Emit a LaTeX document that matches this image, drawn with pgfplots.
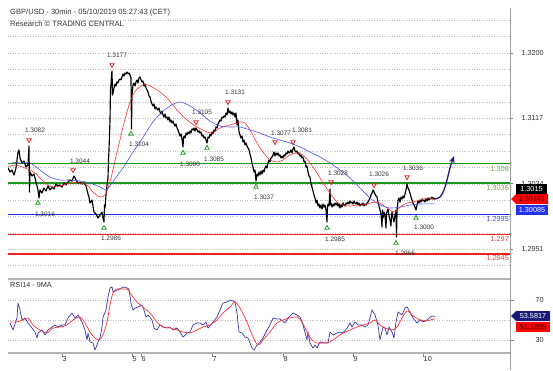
\documentclass[border=0pt]{standalone}
\usepackage{fontspec}
\setmainfont{Liberation Sans}
\usepackage{pgfplots}
\pgfplotsset{compat=1.18}
\usetikzlibrary{arrows.meta}

\definecolor{lvgreen}{HTML}{1A9A1A}
\definecolor{lvgreentxt}{HTML}{6AAE4A}
\definecolor{lvblue}{HTML}{1A2AF0}
\definecolor{lvbluetxt}{HTML}{4050D8}
\definecolor{lvred}{HTML}{F02020}
\definecolor{lvredtxt}{HTML}{EE3A3A}
\definecolor{mared}{HTML}{FF3030}
\definecolor{mablue}{HTML}{5050F0}
\definecolor{rsiblue}{HTML}{3838A8}
\definecolor{navyarrow}{HTML}{1E1E80}
\definecolor{txtgray}{HTML}{333333}
\definecolor{trired}{HTML}{E02828}
\definecolor{trigreen}{HTML}{249A24}
\definecolor{boxblue}{HTML}{2233F0}
\definecolor{boxnavy}{HTML}{1C1C78}
\definecolor{gridc}{HTML}{BBBBBB}

\newcommand\sm{\fontsize{6.5}{7}\selectfont}
\newcommand\md{\fontsize{7.3}{8}\selectfont}

\begin{document}
\begin{tikzpicture}

% ---------------- main price panel ----------------
\begin{axis}[
  at={(8bp,100bp)}, anchor=south west, scale only axis,
  width=502bp, height=262bp,
  xmin=8, xmax=510, ymin=1.29247, ymax=1.32569,
  axis line style={draw=none},
  xtick=\empty,
  ytick pos=right, yticklabel pos=right,
  ytick={1.2951,1.3034,1.3117,1.3200},
  yticklabels={1.2951,1.3034,1.3117,1.3200},
  tick align=outside, major tick length=3bp,
  ytick style={gray, line width=0.6bp},
  yticklabel style={font=\md, text=txtgray, anchor=west, xshift=5bp},
  /pgf/number format/assume math mode=true,
]
% dotted grid
\pgfplotsinvokeforeach{1.29303,1.2951,1.29718,1.29925,1.30133,1.3034,1.30548,1.30755,1.30963,1.3117,1.31378,1.31585,1.31793,1.3200,1.32208,1.32415}{
  \addplot[gridc, dotted, line width=0.5bp, forget plot] coordinates {(8,#1)(510,#1)};
}
% support / resistance levels
\addplot[lvgreen, line width=1.2bp] coordinates {(8,1.306)(510,1.306)};
\addplot[lvgreen, line width=1.2bp] coordinates {(8,1.3035)(510,1.3035)};
\addplot[lvblue, line width=1.5bp] coordinates {(8,1.2995)(510,1.2995)};
\addplot[lvred, line width=1.2bp] coordinates {(8,1.297)(510,1.297)};
\addplot[lvred, line width=1.2bp] coordinates {(8,1.2945)(510,1.2945)};

% price
\addplot[black, line width=1.15bp, line join=round] coordinates {
(8,1.30540)(10,1.30489)(12,1.30515)(14,1.30451)(16,1.30540)(18,1.30743)(19,1.30769)(20,1.30667)
(22,1.30604)(24,1.30629)(26,1.30553)(28,1.30578)(29,1.30819)(29.5,1.30236)(30,1.30489)(32,1.30439)
(34,1.30464)(36,1.30363)(38,1.30261)(39,1.30160)(40,1.30261)(42,1.30223)(44,1.30286)(46,1.30248)
(48,1.30312)(50,1.30261)(52,1.30299)(54,1.30274)(56,1.30337)(58,1.30312)(60,1.30325)(62,1.30299)
(64,1.30350)(66,1.30325)(68,1.30363)(70,1.30388)(72,1.30375)(74,1.30439)(76,1.30388)(78,1.30350)
(80,1.30363)(82,1.30337)(84,1.30350)(86,1.30312)(87,1.30261)(88,1.30210)(89,1.30172)(90,1.30096)
(92,1.30134)(94,1.29982)(96,1.29957)(98,1.29906)(100,1.29944)(102,1.29982)(103,1.29906)(104,1.29855)
(104.5,1.30071)(105,1.30033)(106,1.30198)(107,1.30325)(108,1.30413)(108.5,1.30642)(109,1.30769)
(109.5,1.30959)(110,1.31149)(110.5,1.31530)(111,1.31593)(111.5,1.31720)(112,1.31771)(112.5,1.31466)
(113,1.31492)(114,1.31555)(115,1.31606)(116,1.31580)(117,1.31631)(118,1.31618)(119,1.31657)(120,1.31669)
(121,1.31657)(122,1.31695)(123,1.31733)(124,1.31707)(125,1.31745)(126,1.31733)(127,1.31758)(128,1.31733)
(129,1.31745)(130,1.31720)(131,1.31682)(131.5,1.31035)(132,1.31466)(133,1.31593)(134,1.31618)(135,1.31580)
(136,1.31631)(137,1.31657)(138,1.31618)(139,1.31682)(140,1.31695)(141,1.31657)(142,1.31631)(143,1.31644)
(144,1.31580)(145,1.31606)(146,1.31555)(147,1.31530)(148,1.31504)(149,1.31454)(150,1.31441)(151,1.31390)
(152,1.31352)(153,1.31327)(154,1.31352)(155,1.31289)(156,1.31314)(157,1.31289)(158,1.31276)(159,1.31301)
(160,1.31251)(161,1.31225)(162,1.31263)(163,1.31213)(164,1.31187)(165,1.31225)(166,1.31175)(167,1.31187)
(168,1.31149)(169,1.31187)(170,1.31124)(171,1.31149)(172,1.31111)(173,1.31136)(174,1.31098)(175,1.31073)
(176,1.31098)(177,1.31048)(178,1.31022)(179,1.30984)(180,1.30946)(181,1.30972)(182,1.30908)(183,1.30807)
(183.5,1.30921)(184,1.30946)(185,1.30921)(186,1.30984)(187,1.30959)(188,1.30997)(189,1.30972)(190,1.31010)
(191,1.30984)(192,1.31035)(193,1.31022)(194,1.31048)(195,1.31010)(196,1.31048)(197,1.31022)(198,1.30997)
(199,1.31010)(200,1.30984)(201,1.30997)(202,1.30946)(203,1.30959)(204,1.30921)(205,1.30933)(206,1.30895)
(207,1.30857)(208,1.30933)(209,1.30921)(210,1.30972)(211,1.30946)(212,1.30997)(213,1.30972)(214,1.31022)
(215,1.31010)(216,1.31060)(217,1.31048)(218,1.31098)(219,1.31124)(220,1.31149)(221,1.31136)(222,1.31187)
(223,1.31175)(224,1.31200)(225,1.31187)(226,1.31238)(227,1.31213)(228,1.31301)(229,1.31238)(230,1.31263)
(231,1.31225)(232,1.31251)(233,1.31213)(234,1.31238)(235,1.31187)(236,1.31238)(237,1.31086)(238,1.31149)
(239,1.30997)(240,1.30959)(241,1.30921)(242,1.30946)(243,1.30870)(244,1.30895)(245,1.30832)(246,1.30857)
(247,1.30819)(248,1.30794)(249,1.30769)(250,1.30718)(251,1.30667)(252,1.30604)(253,1.30553)(254,1.30489)
(255,1.30515)(256,1.30375)(257,1.30464)(258,1.30439)(259,1.30489)(260,1.30451)(261,1.30502)(262,1.30464)
(263,1.30515)(264,1.30489)(265,1.30540)(266,1.30566)(267,1.30540)(268,1.30604)(269,1.30642)(270,1.30616)
(271,1.30667)(272,1.30680)(273,1.30705)(274,1.30743)(275,1.30692)(276,1.30731)(277,1.30705)(278,1.30731)
(279,1.30692)(280,1.30705)(281,1.30667)(282,1.30692)(283,1.30667)(284,1.30705)(285,1.30692)(286,1.30731)
(287,1.30718)(288,1.30756)(289,1.30731)(290,1.30743)(291,1.30769)(292,1.30731)(293,1.30781)(294,1.30807)
(295,1.30756)(296,1.30743)(297,1.30756)(298,1.30718)(299,1.30731)(300,1.30692)(301,1.30705)(302,1.30667)
(303,1.30680)(304,1.30616)(305,1.30629)(306,1.30553)(307,1.30566)(308,1.30489)(309,1.30439)(310,1.30426)
(311,1.30337)(312,1.30299)(313,1.30248)(314,1.30198)(315,1.30160)(316,1.30096)(317,1.30134)(318,1.30058)
(319,1.30084)(320,1.30033)(321,1.30071)(322,1.30020)(323,1.30084)(324,1.30045)(325,1.30071)(326,1.30007)
(327,1.29855)(327.5,1.30045)(328,1.30084)(329,1.30058)(330,1.30274)(330.5,1.30071)(331,1.30096)(332,1.30045)
(333,1.30084)(334,1.30058)(335,1.30096)(336,1.30071)(337,1.30096)(338,1.30058)(339,1.30084)(340,1.30033)
(341,1.30071)(342,1.30045)(343,1.30096)(344,1.30071)(345,1.30058)(346,1.30096)(347,1.30084)(348,1.30109)
(349,1.30084)(350,1.30122)(351,1.30096)(352,1.30109)(353,1.30084)(354,1.30122)(355,1.30096)(356,1.30084)
(357,1.30109)(358,1.30071)(359,1.30096)(360,1.30058)(361,1.30084)(362,1.30071)(363,1.30096)(364,1.30058)
(365,1.30084)(366,1.30071)(367,1.30096)(368,1.30109)(369,1.30134)(370,1.30160)(371,1.30198)(372,1.30223)
(373,1.30261)(374,1.30236)(375,1.30210)(376,1.30185)(377,1.30172)(378,1.30109)(379,1.30058)(380,1.30007)
(381,1.29957)(382,1.29792)(382.5,1.30007)(383,1.29906)(384,1.29982)(385,1.29931)(386,1.29779)(386.5,1.29969)
(388,1.30020)(389,1.29931)(390,1.29881)(391,1.29805)(391.5,1.29944)(392,1.29982)(393,1.29906)(394,1.29855)
(395,1.29944)(396,1.30007)(396.5,1.29665)(397,1.29982)(398,1.30134)(399,1.30160)(400,1.30109)(401,1.30172)
(402,1.30147)(403,1.30185)(404,1.30160)(405,1.30210)(406,1.30261)(407,1.30337)(408,1.30286)(409,1.30261)
(410,1.30223)(411,1.30172)(412,1.30134)(413,1.30096)(414,1.30071)(415,1.30045)(416,1.30007)(417,1.30071)
(418,1.30122)(419,1.30096)(420,1.30134)(421,1.30109)(422,1.30147)(423,1.30122)(424,1.30134)(425,1.30109)
(426,1.30147)(427,1.30122)(428,1.30160)(429,1.30134)(430,1.30160)(431,1.30147)(432,1.30172)(433,1.30147)
(434,1.30160)(435,1.30147)
};

% fast moving average (red)
\addplot[mared, line width=0.6bp, smooth] coordinates {
(8,1.30553)(15,1.30578)(25,1.30540)(35,1.30477)(45,1.30350)(52,1.30299)(60,1.30312)(70,1.30350)
(80,1.30350)(87,1.30325)(93,1.30236)(100,1.30172)(105,1.30198)(108,1.30286)(111,1.30413)(114,1.30578)
(117,1.30743)(120,1.30895)(123,1.31060)(127,1.31251)(130,1.31377)(133,1.31466)(137,1.31542)(143,1.31593)
(148,1.31593)(157,1.31530)(167,1.31428)(177,1.31276)(187,1.31149)(197,1.31060)(207,1.30997)(213,1.30984)
(220,1.31048)(230,1.31086)(237,1.31111)(240,1.31124)(245,1.31111)(250,1.31022)(257,1.30857)(263,1.30743)
(270,1.30642)(277,1.30616)(283,1.30642)(290,1.30705)(297,1.30731)(303,1.30705)(310,1.30604)(317,1.30477)
(323,1.30350)(330,1.30223)(337,1.30109)(343,1.30071)(350,1.30058)(357,1.30071)(363,1.30071)(370,1.30096)
(377,1.30109)(383,1.30071)(390,1.30007)(395,1.29982)(400,1.30045)(407,1.30096)(413,1.30109)(420,1.30134)
(427,1.30160)(435,1.30141)
};

% slow moving average (blue)
\addplot[mablue, line width=0.6bp, smooth] coordinates {
(12,1.30616)(20,1.30604)(30,1.30604)(40,1.30515)(50,1.30426)(60,1.30388)(70,1.30388)(80,1.30375)
(90,1.30350)(100,1.30299)(106,1.30261)(110,1.30312)(117,1.30439)(125,1.30578)(133,1.30743)(140,1.30870)
(147,1.31010)(153,1.31124)(160,1.31225)(170,1.31327)(180,1.31377)(190,1.31327)(200,1.31238)(210,1.31136)
(220,1.31073)(230,1.31060)(240,1.31060)(250,1.31022)(260,1.30984)(270,1.30933)(280,1.30895)(290,1.30857)
(300,1.30807)(310,1.30743)(320,1.30680)(330,1.30604)(340,1.30515)(350,1.30413)(360,1.30286)(370,1.30160)
(380,1.30071)(390,1.30033)(400,1.30045)(410,1.30071)(420,1.30084)(435,1.30085)
};

% forecast arrow
\addplot[navyarrow, line width=1.3bp, smooth, -{Stealth[length=7bp,width=6bp]}] coordinates {
(435,1.30147)(440,1.30172)(444,1.30261)(447,1.30388)(450,1.30540)(454,1.30692)
};

% swing highs
\addplot[only marks, mark=triangle, mark size=2.6bp, trired,
  mark options={rotate=180, line width=0.8bp, fill=white}] coordinates {
(29,1.30895)(73,1.30515)(112,1.31846)(196,1.31124)(228,1.31377)(275,1.30870)(293,1.30870)
(331,1.30363)(374,1.30325)(407,1.30426)
};
% swing lows
\addplot[only marks, mark=triangle, mark size=2.6bp, trigreen,
  mark options={line width=0.8bp, fill=white}] coordinates {
(38,1.30096)(104,1.29779)(131,1.30972)(183,1.30731)(207,1.30794)(256,1.30299)(327,1.29779)
(396,1.29589)(416,1.29906)
};
\end{axis}

% ---------------- RSI panel ----------------
\begin{axis}[
  at={(8bp,17bp)}, anchor=south west, scale only axis,
  width=502bp, height=74bp,
  xmin=8, xmax=510, ymin=17, ymax=91,
  axis line style={draw=none},
  xtick pos=bottom, ytick pos=right, yticklabel pos=right,
  xtick={62,132,141,212,283,353,423},
  xticklabels={3,5,6,7,8,9,10},
  ytick={30,70}, yticklabels={30,70},
  tick align=outside, major tick length=4bp,
  tick style={gray, line width=0.6bp},
  xticklabel style={font=\md, text=txtgray, anchor=north west, inner sep=0.5bp, xshift=0bp, yshift=1bp},
  yticklabel style={font=\md, text=txtgray, anchor=west, xshift=18bp},
  /pgf/number format/assume math mode=true,
]
\pgfplotsinvokeforeach{30,50,70}{
  \addplot[gridc, dotted, line width=0.5bp, forget plot] coordinates {(8,#1)(510,#1)};
}
\addplot[rsiblue, line width=0.7bp, line join=round] coordinates {
(10,47)(13,40)(17,52)(18,67)(20,60)(22,50)(25,52)(28,47)(32,42)(35,38)(37,32)(38,37)(42,40)(45,35)
(48,40)(52,43)(55,45)(58,43)(62,45)(65,45)(68,52)(72,57)(75,52)(78,55)(82,48)(85,40)(87,30)(88,37)
(90,28)(93,27)(95,20)(97,25)(98,28)(100,32)(102,43)(103,53)(106,60)(108,73)(110,82)(112,83)(113,78)
(117,80)(120,81)(123,83)(127,82)(129,81)(131,67)(133,60)(135,62)(138,63)(142,65)(144,60)(146,53)
(148,55)(152,50)(154,42)(157,40)(160,45)(163,43)(167,42)(170,43)(173,40)(177,42)(180,38)(183,33)
(187,37)(190,38)(193,45)(197,47)(200,47)(203,45)(206,48)(208,42)(211,45)(213,48)(217,53)(220,60)
(223,67)(227,68)(230,70)(233,69)(235,68)(237,57)(239,38)(242,37)(245,33)(248,32)(252,22)(254,20)
(257,25)(260,28)(263,32)(267,40)(270,45)(273,52)(277,51)(280,51)(285,47)(288,52)(293,57)(297,55)
(300,53)(303,45)(307,30)(308,38)(310,27)(313,22)(315,25)(317,22)(320,28)(325,27)(328,27)(330,38)
(333,35)(337,37)(340,38)(343,37)(347,42)(350,47)(352,43)(355,48)(358,45)(362,45)(365,43)(368,45)
(370,52)(372,60)(375,55)(378,45)(380,30)(383,43)(385,42)(387,35)(389,43)(392,38)(394,32)(396,48)
(398,58)(402,55)(405,62)(407,63)(410,58)(413,52)(417,47)(420,50)(423,48)(427,50)(430,53)(433,54)
(435,53.58)
};
\addplot[mared, line width=0.7bp, smooth] coordinates {
(10,48)(17,48)(23,50)(28,52)(33,45)(40,40)(47,37)(53,42)(60,43)(67,45)(73,50)(80,53)(85,47)(90,38)
(95,32)(99,30)(103,35)(107,48)(110,65)(113,77)(117,81)(123,81)(128,80)(133,73)(138,67)(143,63)
(150,57)(157,48)(163,43)(170,42)(177,40)(183,38)(190,37)(197,40)(203,43)(210,45)(217,50)(223,57)
(230,63)(235,68)(240,62)(247,48)(253,33)(258,25)(263,30)(270,38)(277,47)(283,50)(290,52)(297,53)
(302,48)(307,38)(312,30)(317,27)(323,27)(330,28)(337,33)(343,37)(350,40)(357,43)(363,45)(370,47)
(375,50)(380,45)(385,42)(392,40)(397,43)(402,52)(407,59)(412,55)(418,51)(425,49)(430,50)(435,51.19)
};
\end{axis}

\begin{scope}[x=1bp,y=1bp]
% ---------------- frame lines ----------------
\draw[gray!75, line width=0.8bp] (510,0) -- (510,362);
\draw[gray!60, line width=1.3bp] (8,91) -- (510,91);
\draw[gray!60, line width=1.3bp] (8,17) -- (510,17);

% ---------------- texts ----------------
\node[anchor=west, inner sep=0, font=\fontsize{7.6}{8}\selectfont, text=txtgray] at (10,357) {GBP/USD - 30min - 05/10/2019 05:27:43 (CET)};
\node[anchor=west, inner sep=0, font=\fontsize{7.6}{8}\selectfont, text=txtgray] at (10,346) {Research © TRADING CENTRAL};
\node[anchor=west, inner sep=0, font=\md, text=txtgray] at (10,85) {RSI14 - 9MA};

\begin{scope}[every node/.style={font=\sm, text=txtgray, inner sep=0}]
\node at (35,240) {1.3082};
\node at (80,209) {1.3044};
\node at (117,315) {1.3177};
\node at (202,258) {1.3105};
\node at (235,278) {1.3131};
\node at (281,237) {1.3077};
\node at (302,240) {1.3081};
\node at (338,197) {1.3028};
\node at (379,196) {1.3026};
\node at (413,202) {1.3036};
\node at (45,156) {1.3016};
\node at (111,132) {1.2986};
\node at (139,226) {1.3104};
\node at (190,206) {1.3080};
\node at (214,211) {1.3085};
\node at (264,173) {1.3037};
\node at (335,131) {1.2985};
\node at (405,117) {1.2966};
\node at (424,143) {1.3000};
\end{scope}

\begin{scope}[every node/.style={font=\md, anchor=east, inner sep=0}]
\node[text=lvgreentxt] at (509,201) {1.306};
\node[text=lvgreentxt] at (509,182) {1.3035};
\node[text=lvbluetxt] at (509,151) {1.2995};
\node[text=lvredtxt] at (509,131) {1.297};
\node[text=lvredtxt] at (509,112) {1.2945};
\end{scope}

% current value boxes
\fill[black] (516,175.5) rectangle (547,186.5);
\node[font=\md, text=white, inner sep=0] at (531.5,181) {1.3015};
\fill[red] (511,171) -- (516,176) -- (548,176) -- (548,166) -- (516,166) -- cycle;
\node[font=\md, text=black!80!red, inner sep=0] at (532,171) {1.30141};
\fill[boxblue] (516,155) rectangle (548,165);
\node[font=\md, text=white, inner sep=0] at (532,160) {1.30085};

\fill[boxnavy] (511,54) -- (516,59) -- (550,59) -- (550,49) -- (516,49) -- cycle;
\node[font=\md, text=white, inner sep=0] at (533,54) {53.5817};
\fill[red] (516,38) rectangle (550,48);
\node[font=\md, text=black!80!red, inner sep=0] at (533,43) {51.1899};

\pgfresetboundingbox
\useasboundingbox (0,0) rectangle (553,370);
\end{scope}
\end{tikzpicture}
\end{document}
